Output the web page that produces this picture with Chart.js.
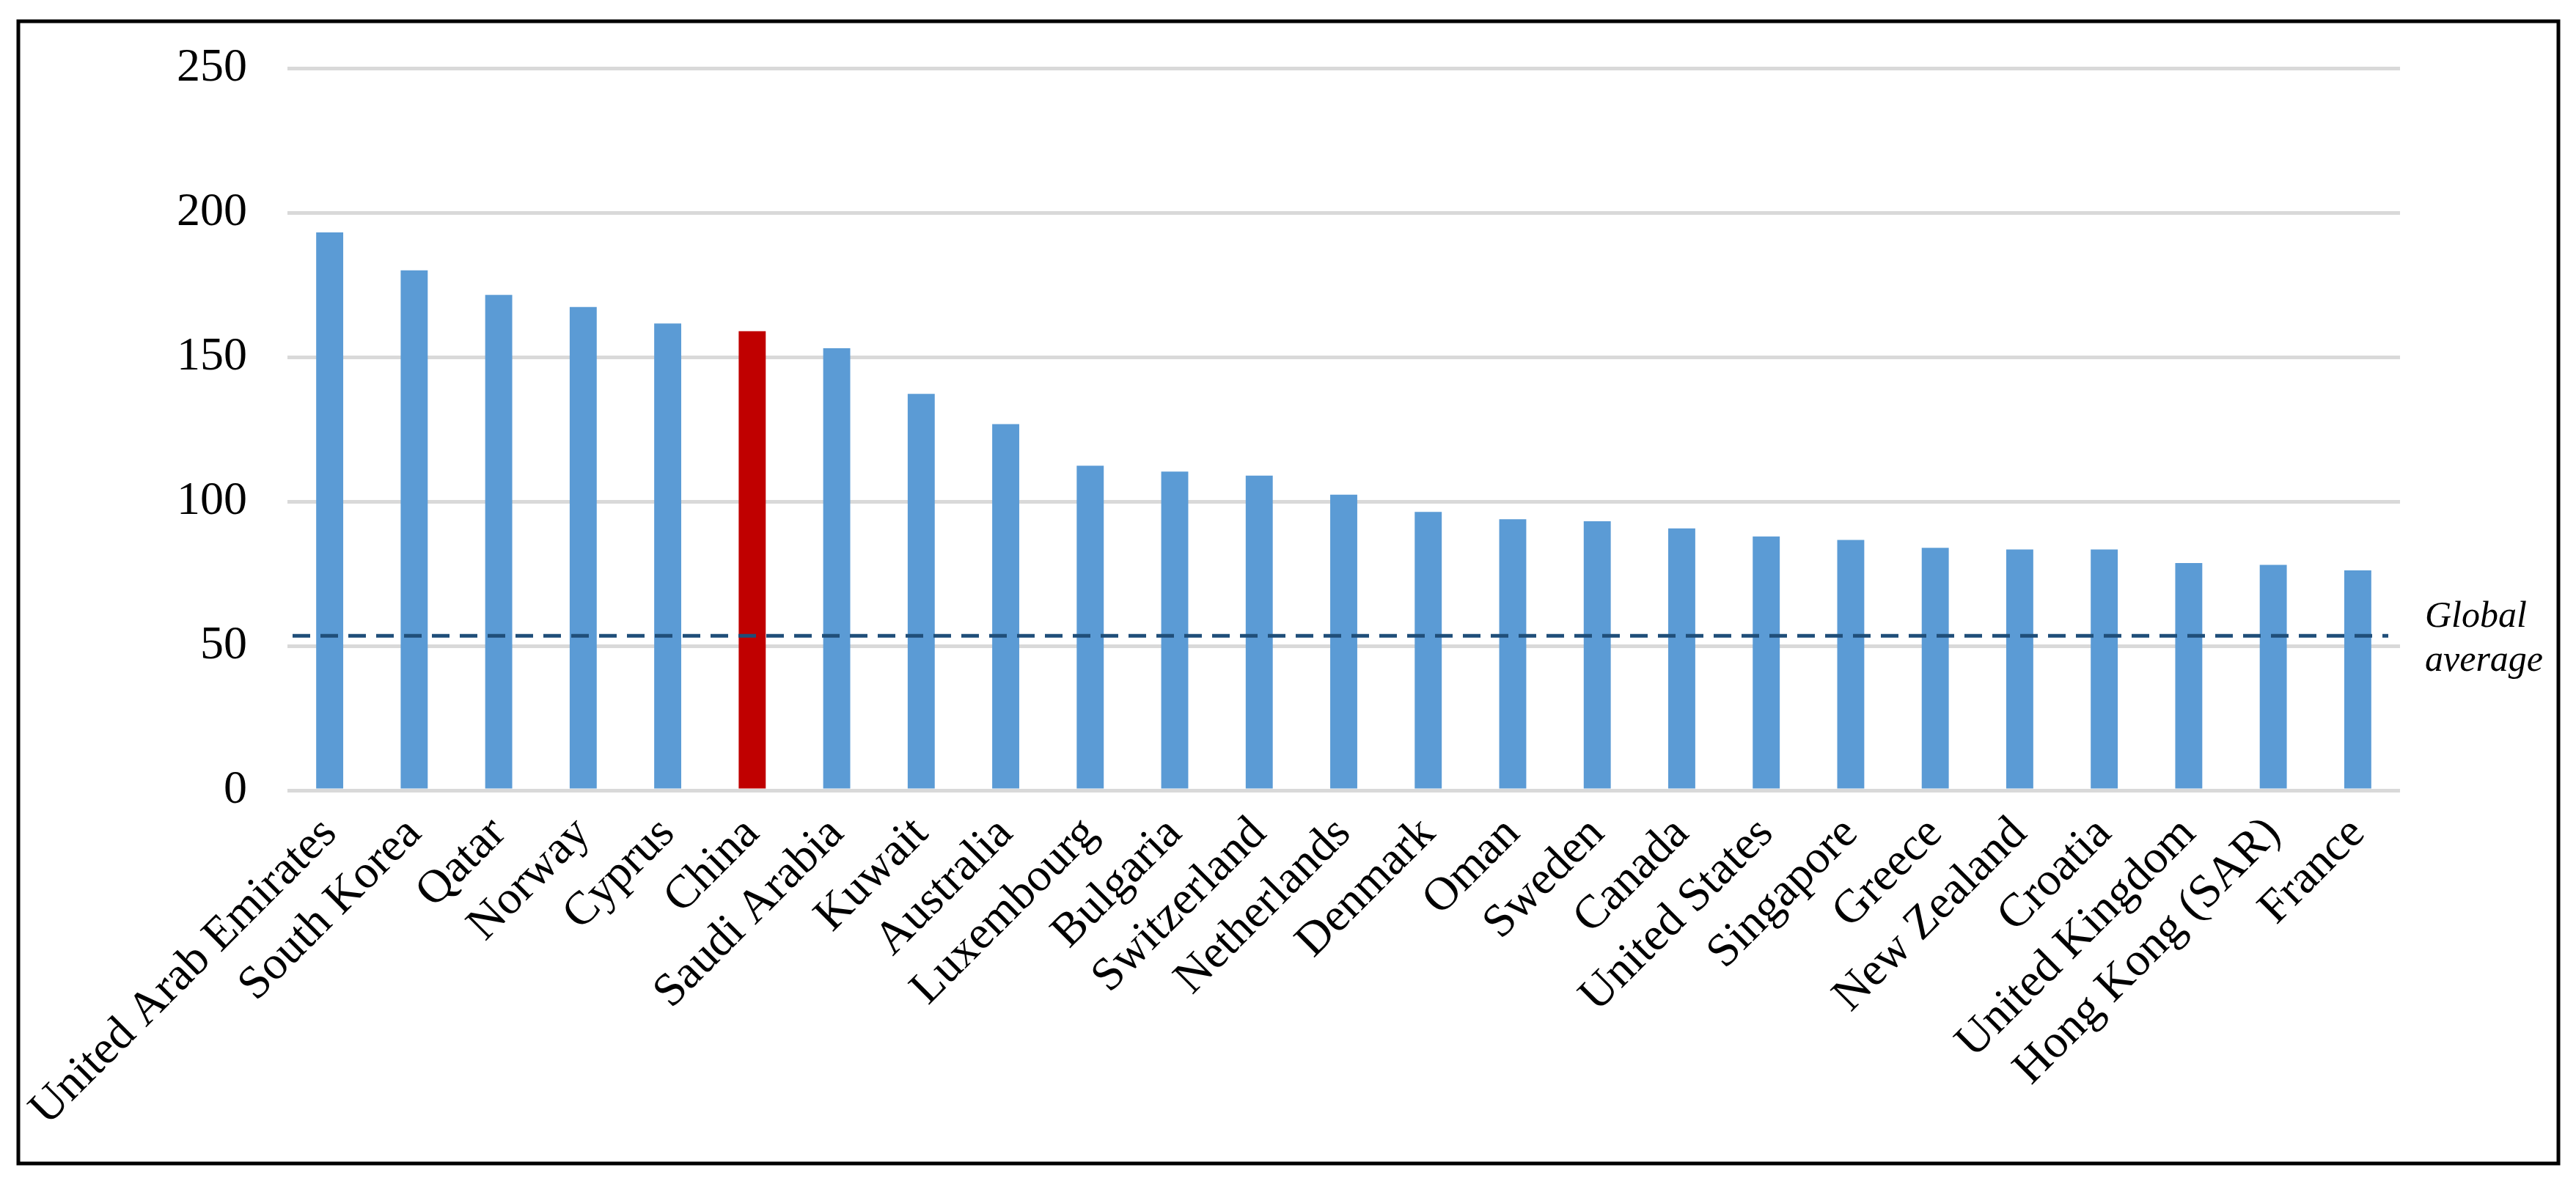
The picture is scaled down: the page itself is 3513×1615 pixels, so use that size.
<!DOCTYPE html>
<html lang="en">
<head>
  <meta charset="UTF-8">
  <title>Country bar chart</title>
  <script src="https://cdn.jsdelivr.net/npm/chart.js"></script>
  <style>
    html, body {
      margin: 0;
      padding: 0;
      background: #ffffff;
    }

    #wrap {
      width: 3513px;
      height: 1615px;
    }
  </style>
</head>
<body>

  <div id="wrap">
    <canvas id="countryChart"></canvas>
  </div>

  <script>
    // data
    const countries = [
      'United Arab Emirates', 'South Korea', 'Qatar', 'Norway', 'Cyprus', 'China',
      'Saudi Arabia', 'Kuwait', 'Australia', 'Luxembourg', 'Bulgaria', 'Switzerland',
      'Netherlands', 'Denmark', 'Oman', 'Sweden', 'Canada', 'United States',
      'Singapore', 'Greece', 'New Zealand', 'Croatia', 'United Kingdom',
      'Hong Kong (SAR)', 'France'
    ];
    const values = [
      193.2, 180.1, 171.6, 167.4, 161.7, 159.0,
      153.1, 137.3, 126.8, 112.4, 110.4, 109.0,
      102.4, 96.4, 93.9, 93.2, 90.7, 87.9,
      86.7, 84.0, 83.4, 83.4, 78.7,
      78.1, 76.2
    ];
    const globalAverage = 53.5;
    const yTicks = [0, 50, 100, 150, 200, 250];
    const highlight = 'China';
    const averageLabel = ['Global', 'average'];

    // dashed average line, its label, and the frame round the figure
    const extras = {
      id: 'extras',
      afterDatasetsDraw(chart) {
        const { ctx, chartArea } = chart;
        const y = chart.scales.y.getPixelForValue(globalAverage);
        ctx.save();
        ctx.strokeStyle = '#1f4e79';
        ctx.lineWidth = 5;
        ctx.setLineDash([24, 14]);
        ctx.beginPath();
        ctx.moveTo(chartArea.left + 7, y);
        ctx.lineTo(chartArea.right - 16, y);
        ctx.stroke();
        ctx.setLineDash([]);

        ctx.fillStyle = '#000000';
        ctx.font = 'italic 50px "Liberation Serif"';
        ctx.textAlign = 'left';
        ctx.textBaseline = 'alphabetic';
        ctx.fillText(averageLabel[0], chartArea.right + 34, y - 12);
        ctx.fillText(averageLabel[1], chartArea.right + 34, y + 48);

        ctx.strokeStyle = '#000000';
        ctx.lineWidth = 5;
        ctx.strokeRect(25, 29, 3464, 1558);
        ctx.restore();
      }
    };

    const ctx = document.getElementById('countryChart').getContext('2d');
    new Chart(ctx, {
      type: 'bar',
      data: {
        labels: countries,
        datasets: [{
          data: values,
          backgroundColor: c => countries[c.dataIndex] === highlight ? '#c00000' : '#5b9bd5',
          barPercentage: 0.32,
          categoryPercentage: 1.0
        }]
      },
      options: {
        responsive: true,
        maintainAspectRatio: false,
        animation: false,
        layout: {
          padding: { left: 40, right: 240, top: 85, bottom: 80 }
        },
        plugins: {
          legend: { display: false },
          tooltip: { enabled: false }
        },
        scales: {
          x: {
            afterFit: s => { s.height = 457; },
            grid: { display: false },
            border: { display: false },
            ticks: {
              color: '#000000',
              font: { family: '"Liberation Serif"', size: 64 },
              minRotation: 45,
              maxRotation: 45,
              autoSkip: false,
              padding: 14
            }
          },
          y: {
            min: 0,
            max: 250,
            afterFit: s => { s.width = 352; },
            afterBuildTicks: s => { s.ticks = yTicks.map(v => ({ value: v })); },
            grid: {
              color: '#d9d9d9',
              lineWidth: 5,
              drawTicks: false
            },
            border: { display: false },
            ticks: {
              color: '#000000',
              font: { family: '"Liberation Serif"', size: 64 },
              padding: 55
            }
          }
        }
      },
      plugins: [extras]
    });
  </script>
</body>
</html>
